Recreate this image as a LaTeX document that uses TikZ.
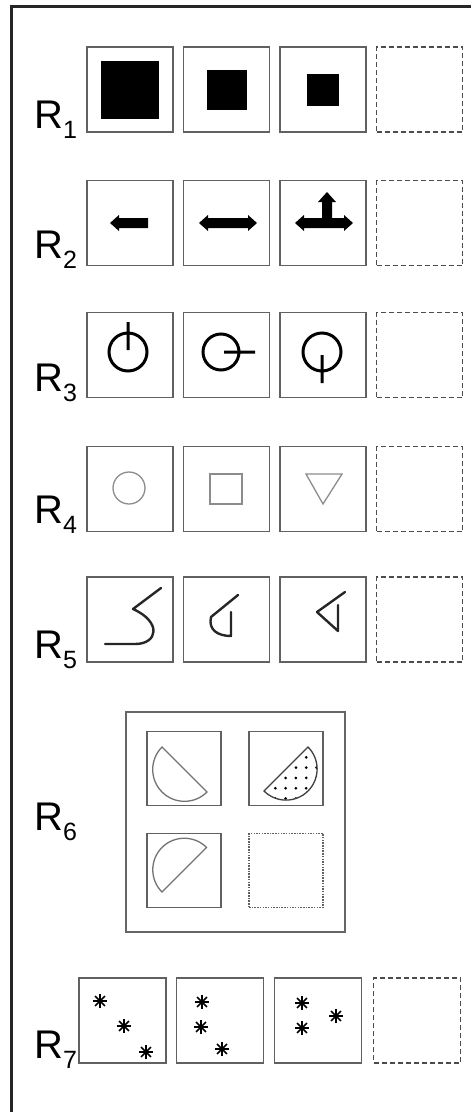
\documentclass[tikz,border=0pt]{standalone}
\usepackage{fontspec}
\setmainfont{Liberation Sans}
\usetikzlibrary{calc}

\tikzset{
  cellbox/.style={draw=black!62, line width=1.7pt, minimum width=86pt, minimum height=85pt, inner sep=0pt},
  blankbox/.style={cellbox, draw=black!70, line width=1.8pt, dash pattern=on 5pt off 3pt},
  rowlabel/.style={anchor=base west, inner sep=0pt, font=\fontsize{40}{46}\selectfont},
  inkline/.style={line width=3pt, black},
  thinshape/.style={line width=1.3pt, black!45},
  bentline/.style={line width=2.4pt, black!85, line join=round, line cap=round},
}
\newcommand{\rlab}[1]{R\raisebox{-10pt}{\fontsize{25}{29}\selectfont #1}}
\newcommand{\starmark}[2]{\foreach \a in {0,45,90,135} \draw[line width=1.7pt] ($(#1,#2)+(\a:7)$) -- ($(#1,#2)+(\a+180:7)$);}

\begin{document}
\begin{tikzpicture}[x=1pt,y=1pt,yscale=-1]
\useasboundingbox (0,0) rectangle (471,1112);
\draw[line width=2.2pt,black!85] (471,6.5) -- (11.5,6.5) -- (11.5,1112);

% row labels
\node[rowlabel] (lab1) at (34,128) {\rlab{1}};
\node[rowlabel] (lab2) at (34,258) {\rlab{2}};
\node[rowlabel] (lab3) at (34,391) {\rlab{3}};
\node[rowlabel] (lab4) at (34,523) {\rlab{4}};
\node[rowlabel] (lab5) at (34,658) {\rlab{5}};
\node[rowlabel] (lab6) at (34,830) {\rlab{6}};
\node[rowlabel] (lab7) at (34,1058) {\rlab{7}};

% rows 1--5: three cells and a blank one
\foreach \r/\y in {1/89.5,2/223,3/355,4/489,5/619.5}{
  \foreach \c/\x in {a/130,b/226.5,c/323}
    \node[cellbox] (r\r\c) at (\x,\y) {};
  \node[blankbox] (r\r d) at (419.5,\y) {};
}

% R1
\node[fill, minimum size=58pt, inner sep=0pt] (sq1) at (r1a) {};
\node[fill, minimum size=40pt, inner sep=0pt] (sq2) at (r1b) {};
\node[fill, minimum size=32pt, inner sep=0pt] (sq3) at (r1c) {};

% R2
\fill (110,223) -- (119,215) -- (119,218) -- (148,218) -- (148,228) -- (119,228) -- (119,231) -- cycle;
\fill (199,223) -- (208,215) -- (208,218) -- (248,218) -- (248,215) -- (257,223)
  -- (248,231) -- (248,228) -- (208,228) -- (208,231) -- cycle;
\fill (295,223) -- (304,215) -- (304,218) -- (322,218) -- (322,202) -- (318,202) -- (327,192)
  -- (336,202) -- (332,202) -- (332,218) -- (344,218) -- (344,215) -- (353,223)
  -- (344,231) -- (344,228) -- (304,228) -- (304,231) -- cycle;

% R3
\draw[inkline] (128,352) circle (19) (128,322) -- (128,350);
\draw[inkline] (221,352) circle (18) (224,352) -- (255,352);
\draw[inkline] (322,352) circle (19) (322,355) -- (322,383);

% R4
\draw[thinshape] (129,488) circle (16);
\draw[thinshape] (210,474) rectangle (242,504);
\draw[thinshape] (306,474) -- (342,474) -- (323,504) -- cycle;

% R5
\draw[bentline] (161,588) -- (133,609) .. controls (162,622) and (158,644) .. (135,644) -- (105,644);
\draw[bentline] (238,595) -- (211,617) .. controls (208,630) and (218,636) .. (231,636) -- (231,612);
\draw[bentline] (345,592) -- (317,612) -- (338,631) -- (338,605);

% R6
\draw[black!60, line width=1.4pt] (126,712) rectangle (345,932);
\node[cellbox, minimum width=74pt, minimum height=74pt] (q1) at (184,768.5) {};
\node[cellbox, minimum width=74pt, minimum height=74pt] (q2) at (286,768.5) {};
\node[cellbox, minimum width=74pt, minimum height=74pt] (q3) at (184,870.5) {};
\node[cellbox, minimum width=74pt, minimum height=74pt, dash pattern=on 1.5pt off 1.2pt] (q4) at (286,870.5) {};
\draw[thinshape, black!55] (207,792) arc (45:225:31.8) -- cycle;
\draw[thinshape, black!55] (162,892) arc (135:315:31.5) -- cycle;
\begin{scope}
  \clip (308,747) arc (-45:135:31.1) -- cycle;
  \foreach \i in {0,...,6}
    \foreach \j in {0,...,6}
      \fill (265+10.3*\i,747+10.3*\j) circle (1.5);
\end{scope}
\draw[line width=1.3pt, black!75] (308,747) arc (-45:135:31.1) -- cycle;

% R7
\foreach \c/\x in {a/122.5,b/220,c/318}
  \node[cellbox, minimum width=87pt] (r7\c) at (\x,1020.5) {};
\node[blankbox, minimum width=87pt] (r7d) at (417,1020.5) {};
\starmark{100}{1001}\starmark{124}{1026}\starmark{146}{1052}
\starmark{202}{1002}\starmark{201}{1027}\starmark{222}{1049}
\starmark{302}{1003}\starmark{302}{1028}\starmark{336}{1016}
\end{tikzpicture}
\end{document}
